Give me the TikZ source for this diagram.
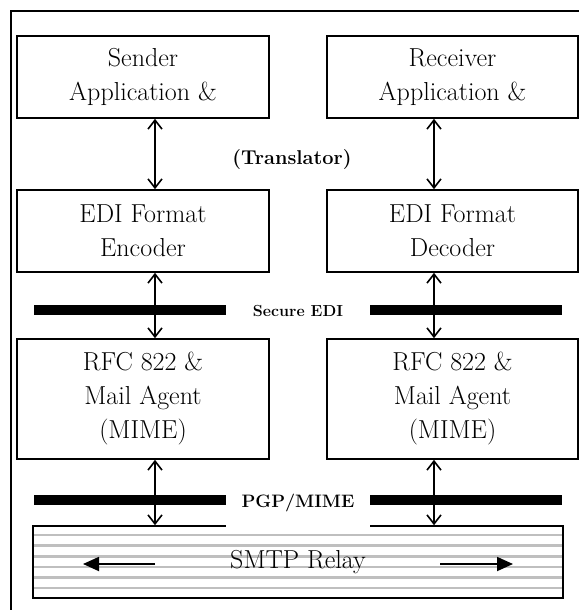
\documentclass[tikz,border=0pt]{standalone}
\usetikzlibrary{arrows.meta}
\tikzset{box/.style={draw=black,line width=1.6pt,fill=white,inner sep=0pt,align=center,minimum width=252pt,font=\fontsize{26}{34}\selectfont}}
\begin{document}
\begin{tikzpicture}[x=1pt,y=-1pt]
\tikzset{dblarrow/.style={{Straight Barb[length=9pt,width=14pt]}-{Straight Barb[length=9pt,width=14pt]},line width=1.6pt}}
\tikzset{relayarrow/.style={-{Triangle[length=16pt,width=14pt]},line width=1.8pt}}
\tikzset{secbar/.style={line width=10pt}}
\tikzset{tag/.style={fill=white,inner sep=0pt,minimum width=144pt}}
\tikzset{relay/.style={box,minimum width=530pt,minimum height=72pt,
  path picture={\foreach \k in {0,...,5}
    \draw[gray!50,line width=2.6pt] ([yshift=-9pt-10.6pt*\k]path picture bounding box.north west) -- ([yshift=-9pt-10.6pt*\k]path picture bounding box.north east);}}}
\useasboundingbox (0,0) rectangle (579,610);
\draw[line width=2pt] (11,610) -- (11,11) -- (579,11);
\coordinate (colL) at (155,0);
\coordinate (colR) at (434,0);
% boxes
\node[box,minimum height=82pt] (sendApp) at (143,77) {Sender\\Application \&};
\node[box,minimum height=82pt,minimum width=251pt] (recvApp) at (452.5,77) {Receiver\\Application \&};
\node[box,minimum height=82pt] (ediEnc) at (143,231) {EDI Format\\Encoder};
\node[box,minimum height=82pt,minimum width=251pt] (ediDec) at (452.5,231) {EDI Format\\Decoder};
\node[box,minimum height=120pt] (rfcL) at (143,399) {RFC 822 \&\\Mail Agent\\(MIME)};
\node[box,minimum height=120pt,minimum width=251pt] (rfcR) at (452.5,399) {RFC 822 \&\\Mail Agent\\(MIME)};
\node[relay] (smtp) at (298,562) {SMTP Relay};
\node[font=\fontsize{20}{22}\selectfont\bfseries] (transl) at (292,160) {(Translator)};
% security layers
\draw[secbar] (34,310) -- (562,310);
\draw[secbar] (34,500) -- (562,500);
\node[tag,font=\fontsize{16}{18}\selectfont\bfseries,anchor=base,text height=14pt,text depth=7pt] (secEdi) at (298,316) {Secure EDI};
\node[tag,font=\fontsize{18}{20}\selectfont\bfseries,anchor=base,text height=19pt,text depth=21pt] (pgpMime) at (298,507) {PGP/MIME};
% arrows
\draw[dblarrow] (sendApp.south -| colL) -- (ediEnc.north -| colL);
\draw[dblarrow] (recvApp.south -| colR) -- (ediDec.north -| colR);
\draw[dblarrow] (ediEnc.south -| colL) -- (rfcL.north -| colL);
\draw[dblarrow] (ediDec.south -| colR) -- (rfcR.north -| colR);
\draw[dblarrow] (rfcL.south -| colL) -- (smtp.north -| colL);
\draw[dblarrow] (rfcR.south -| colR) -- (smtp.north -| colR);
\draw[relayarrow] ([xshift=-143pt,yshift=-2pt]smtp.center) -- ([xshift=-215pt,yshift=-2pt]smtp.center);
\draw[relayarrow] ([xshift=142pt,yshift=-2pt]smtp.center) -- ([xshift=215pt,yshift=-2pt]smtp.center);
\end{tikzpicture}
\end{document}
